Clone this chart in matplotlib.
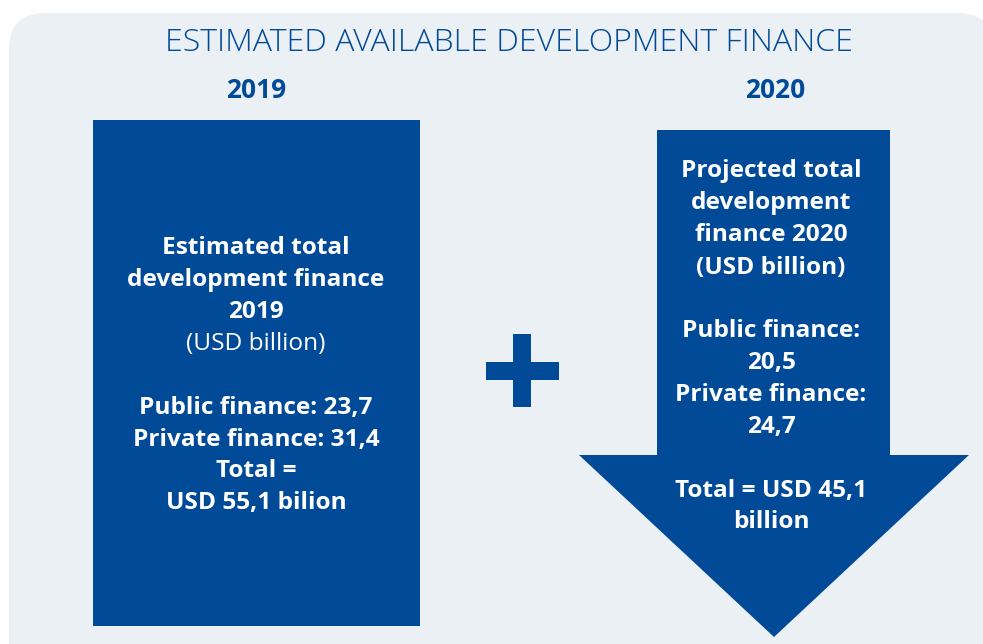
import matplotlib
matplotlib.use("Agg")
import matplotlib.pyplot as plt
from matplotlib.patches import FancyBboxPatch, Rectangle, Polygon

# ---- data ----
years = ["2019", "2020"]
public_finance = [23.7, 20.5]
private_finance = [31.4, 24.7]
totals = [55.1, 45.1]
title = "ESTIMATED AVAILABLE DEVELOPMENT FINANCE"

def fmt(v):
    return f"{v:.1f}".replace(".", ",")

BLUE = "#004A98"
PANEL = "#EBF0F5"
FONT = "Open Sans"

W, H = 983, 644
fig = plt.figure(figsize=(W / 100, H / 100), dpi=100)
fig.patch.set_facecolor("white")
ax = fig.add_axes([0, 0, 1, 1])
ax.set_xlim(0, W)
ax.set_ylim(H, 0)
ax.axis("off")

# background panel
ax.add_patch(FancyBboxPatch((9, 13), 985, 680,
                            boxstyle="round,pad=0,rounding_size=36",
                            fc=PANEL, ec="none"))

# 2019 box
ax.add_patch(Rectangle((93, 120), 327, 506, fc=BLUE, ec="none"))

# plus sign
ax.add_patch(Rectangle((486, 362), 73, 18, fc=BLUE, ec="none"))
ax.add_patch(Rectangle((513, 334), 18, 73, fc=BLUE, ec="none"))

# 2020 arrow
arrow = [(657, 130), (890, 130), (890, 455), (969, 455), (774, 637),
         (579, 455), (657, 455)]
ax.add_patch(Polygon(arrow, closed=True, fc=BLUE, ec="none"))

# title and years
ax.text(509, 42.5, title, ha="center", va="center", color=BLUE,
        fontsize=23, family=FONT, fontweight="light")
ax.text(256, 90, years[0], ha="center", va="center", color=BLUE,
        fontsize=19, family=FONT, fontweight="bold")
ax.text(775, 90, years[1], ha="center", va="center", color=BLUE,
        fontsize=19, family=FONT, fontweight="bold")

FS = 17.6
DY = 2.5
# 2019 text
lines19 = [
    ("Estimated total", "bold", 245),
    ("development finance", "bold", 277),
    (years[0], "bold", 309),
    ("(USD billion)", "normal", 341),
    (f"Public finance: {fmt(public_finance[0])}", "bold", 405),
    (f"Private finance: {fmt(private_finance[0])}", "bold", 437),
    ("Total =", "bold", 468),
    (f"USD {fmt(totals[0])} bilion", "bold", 501),
]
for s, w, y in lines19:
    ax.text(256, y + DY, s, ha="center", va="center", color="white",
            fontsize=FS, family=FONT, fontweight=w)

lines20 = [
    ("Projected total", 168),
    ("development", 200),
    (f"finance {years[1]}", 232),
    ("(USD billion)", 265),
    ("Public finance:", 328),
    (fmt(public_finance[1]), 360),
    ("Private finance:", 392),
    (fmt(private_finance[1]), 424),
    (f"Total = USD {fmt(totals[1])}", 488),
    ("billion", 520),
]
for s, y in lines20:
    ax.text(771, y + DY, s, ha="center", va="center", color="white",
            fontsize=FS, family=FONT, fontweight="bold")

fig.savefig("out.png", dpi=100, facecolor="white")
